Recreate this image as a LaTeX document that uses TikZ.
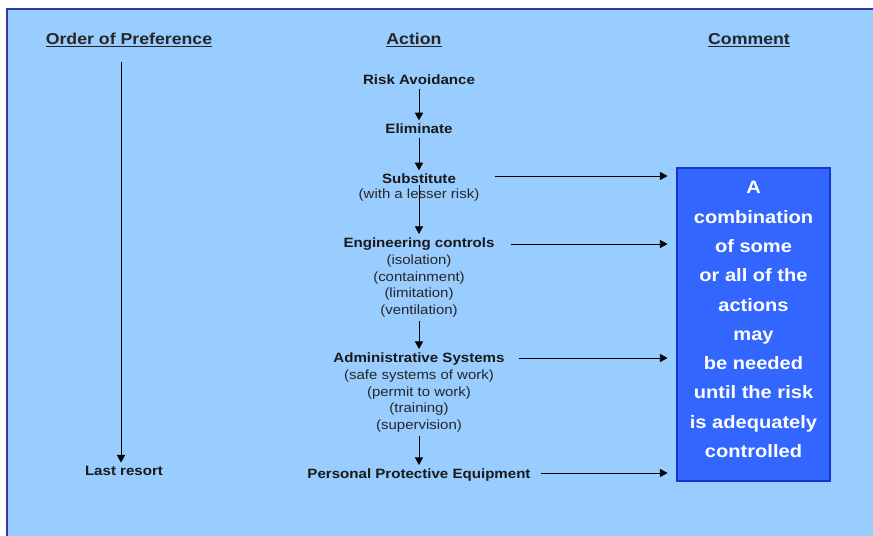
\documentclass[tikz,border=0pt]{standalone}
\usepackage{fontspec}
\setmainfont{Liberation Sans}[FakeStretch=1.12]
\usetikzlibrary{arrows.meta}
\definecolor{panelblue}{HTML}{99CCFF}
\definecolor{panelline}{HTML}{3333AA}
\definecolor{boxblue}{HTML}{3366FF}
\definecolor{boxline}{HTML}{1A33CC}
\tikzstyle{heading} = [font=\fontsize{13.5}{15}\selectfont\bfseries, text=black!85]
\tikzstyle{action} = [font=\fontsize{11.5}{14}\selectfont\bfseries, text=black!90, inner sep=3pt]
\tikzstyle{note} = [font=\fontsize{11.4}{14.2}\selectfont, text=black!85, align=center, inner sep=3pt]
\tikzstyle{comment} = [rectangle, draw=boxline, line width=1.2pt, fill=boxblue, text=white, align=center, font=\fontsize{15.3}{25}\selectfont\bfseries, minimum width=4.59cm, minimum height=9.39cm]
\tikzstyle{arrow} = [-{Triangle[length=6.5pt,width=7pt]}, line width=0.7pt]

\begin{document}
\begin{tikzpicture}[x=0.03cm, y=-0.03cm]
    \useasboundingbox (0,0) rectangle (873,535);
    \fill[white] (0,0) rectangle (873,535);
    \filldraw[fill=panelblue, draw=panelline, line width=1.5pt] (7,9) rectangle (885,550);
    % column headings
    \node [heading] at (129,40) (order) {\underline{Order of Preference}};
    \node [heading] at (414,40) (actionhead) {\underline{Action}};
    \node [heading] at (749,40) (commenthead) {\underline{Comment}};
    % actions
    \node [action] at (419,80) (avoid) {Risk Avoidance};
    \node [action] at (419,129) (elim) {Eliminate};
    \node [action] at (419,179) (subst) {Substitute};
    \node [note] at (419,195) (substnote) {(with a lesser risk)};
    \node [action] at (419,244) (eng) {Engineering controls};
    \node [note] at (419,286) (engnote) {(isolation)\\(containment)\\(limitation)\\(ventilation)};
    \node [action] at (419,359) (admin) {Administrative Systems};
    \node [note] at (419,401) (adminnote) {(safe systems of work)\\(permit to work)\\(training)\\(supervision)};
    \node [action] at (419,475) (ppe) {Personal Protective Equipment};
    \node [action] at (124,471) (last) {Last resort};
    \node [comment] at (753.5,324.5) (combo) {A\\combination\\of some\\or all of the\\actions\\may\\be needed\\until the risk\\is adequately\\controlled\\[-16.5pt]\mbox{}};
    \coordinate (ordertop) at (121,62);
    \coordinate (substout) at (495,176);
    \coordinate (engout) at (511,244);
    \coordinate (adminout) at (519,358);
    \coordinate (ppeout) at (541,473);
    \draw [arrow] (ordertop) -- (ordertop |- last.north);
    \draw [arrow] (avoid) -- (elim);
    \draw [arrow] (elim) -- (subst);
    \draw [arrow] (substnote.north) -- (eng);
    \draw [arrow] (engnote) -- (admin);
    \draw [arrow] (adminnote) -- (ppe);
    \draw [arrow, shorten >=7.5pt] (substout) -- (substout -| combo.west);
    \draw [arrow, shorten >=7.5pt] (engout) -- (engout -| combo.west);
    \draw [arrow, shorten >=7.5pt] (adminout) -- (adminout -| combo.west);
    \draw [arrow, shorten >=7.5pt] (ppeout) -- (ppeout -| combo.west);
\end{tikzpicture}
\end{document}
